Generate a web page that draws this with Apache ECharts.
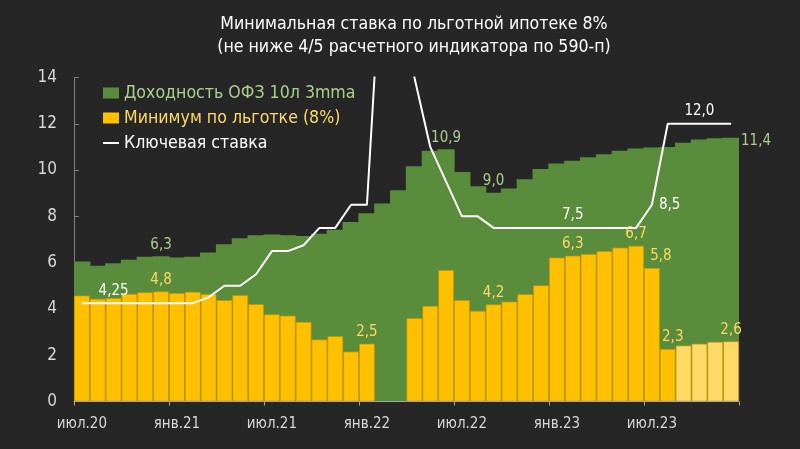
<!DOCTYPE html>
<html>
<head>
<meta charset="utf-8">
<script src="https://cdn.jsdelivr.net/npm/echarts@6/dist/echarts.min.js"></script>
<style>
html,body{margin:0;padding:0;background:#262626;}
#c{width:800px;height:449px;}
</style>
</head>
<body>
<div id="c"></div>
<script>
// Months Jul 2020 .. Dec 2023
const categories = [
  'июл.20','авг.20','сен.20','окт.20','ноя.20','дек.20',
  'янв.21','фев.21','мар.21','апр.21','май.21','июн.21',
  'июл.21','авг.21','сен.21','окт.21','ноя.21','дек.21',
  'янв.22','фев.22','мар.22','апр.22','май.22','июн.22',
  'июл.22','авг.22','сен.22','окт.22','ноя.22','дек.22',
  'янв.23','фев.23','мар.23','апр.23','май.23','июн.23',
  'июл.23','авг.23','сен.23','окт.23','ноя.23','дек.23'
];
// Доходность ОФЗ 10л 3mma
const ofzYield = [
  6.05, 5.87, 5.97, 6.13, 6.25, 6.28,
  6.22, 6.25, 6.44, 6.80, 7.05, 7.18,
  7.22, 7.18, 7.15, 7.25, 7.42, 7.76,
  8.13, 8.56, 9.13, 10.17, 10.83, 10.90,
  9.92, 9.30, 9.02, 9.20, 9.60, 10.05,
  10.28, 10.40, 10.55, 10.68, 10.83, 10.93,
  10.97, 11.00, 11.18, 11.32, 11.37, 11.40
];
// Минимум по льготке (8%)
const minRate = [
  4.58, 4.44, 4.47, 4.65, 4.72, 4.76,
  4.68, 4.74, 4.64, 4.38, 4.60, 4.21,
  3.77, 3.71, 3.44, 2.68, 2.83, 2.16,
  2.50, null, null, 3.60, 4.13, 5.68,
  4.38, 3.92, 4.20, 4.32, 4.64, 5.02,
  6.22, 6.30, 6.37, 6.50, 6.65, 6.73,
  5.77, 2.27, 2.42, 2.50, 2.58, 2.60
];
// Ключевая ставка
const keyRate = [
  4.25, 4.25, 4.25, 4.25, 4.25, 4.25,
  4.25, 4.25, 4.5, 5.0, 5.0, 5.5,
  6.5, 6.5, 6.75, 7.5, 7.5, 8.5,
  8.5, 20, 20, 14, 11, 9.5,
  8, 8, 7.5, 7.5, 7.5, 7.5,
  7.5, 7.5, 7.5, 7.5, 7.5, 7.5,
  8.5, 12, 12, 12, 12, 12
];
const forecastStart = 38; // lighter bars (forecast)
const ofzLabelIdx = [5, 23, 26];
const ofzEndLabelIdx = 41;
const minLabelIdx = [5, 18, 26, 31, 35, 41];
const minLabelShifted = {36: 9, 37: 5};
const keyLabelTop = [2, 31, 39];
const keyLabelRight = [36];
const yTicks = {min: 0, max: 14, interval: 2};

const FONT = "'DejaVu Sans Condensed', 'DejaVu Sans', sans-serif";
const GREEN = '#598C3B', GREEN_TXT = '#A9D18E';
const YELLOW = '#FFC000', YELLOW_LIGHT = '#FFD966', YELLOW_TXT = '#FFD966';

const fmt1 = v => v.toFixed(1).replace('.', ',');
function fmtKey(v){
  const s = Math.abs(v*10 - Math.round(v*10)) < 1e-9 ? v.toFixed(1) : v.toFixed(2);
  return s.replace('.', ',');
}
const barLbl = {show: true, fontFamily: FONT, fontSize: 15, formatter: p => fmt1(p.value)};
const keyLbl = {show: true, fontFamily: FONT, fontSize: 15, formatter: p => fmtKey(p.value)};

const ofzData = ofzYield.map((v, i) => {
  const d = {value: v};
  if (ofzLabelIdx.includes(i)) d.label = Object.assign({}, barLbl, {position: 'top', distance: 4, color: GREEN_TXT});
  if (i === ofzEndLabelIdx) d.label = Object.assign({}, barLbl, {position: ['100%', 0], align: 'left', verticalAlign: 'middle', offset: [2, 3], color: GREEN_TXT});
  return d;
});
const minData = minRate.map((v, i) => {
  const d = {value: v};
  if (i >= forecastStart) d.itemStyle = {color: YELLOW_LIGHT};
  if (minLabelIdx.includes(i)) d.label = Object.assign({}, barLbl, {position: 'top', distance: 4, color: YELLOW_TXT});
  if (minLabelShifted[i] !== undefined) d.label = Object.assign({}, barLbl, {position: 'top', distance: 4, offset: [minLabelShifted[i], 0], color: YELLOW_TXT});
  return d;
});
const keyData = keyRate.map((v, i) => {
  const d = {value: v};
  if (keyLabelTop.includes(i)) d.label = Object.assign({}, keyLbl, {position: 'top', distance: 5, color: '#FFFFFF'});
  if (keyLabelRight.includes(i)) d.label = Object.assign({}, keyLbl, {position: 'right', distance: 7, color: '#FFFFFF'});
  return d;
});

const chart = echarts.init(document.getElementById('c'), null, {renderer: 'canvas'});
chart.setOption({
  backgroundColor: '#262626',
  animation: false,
  title: {
    text: 'Минимальная ставка по льготной ипотеке 8%\n(не ниже 4/5 расчетного индикатора по 590-п)',
    left: 409, top: 8, textAlign: 'center',
    textStyle: {color: '#FFFFFF', fontFamily: FONT, fontSize: 17.6, fontWeight: 'normal', lineHeight: 23}
  },
  legend: {
    orient: 'vertical', left: 103, top: 84, padding: 0,
    itemWidth: 16, itemHeight: 11, itemGap: 7,
    textStyle: {fontFamily: FONT, fontSize: 17.6, lineHeight: 18},
    data: [
      {name: 'Доходность ОФЗ 10л 3mma', icon: 'rect', itemStyle: {color: GREEN, borderWidth: 0}, textStyle: {color: GREEN_TXT}},
      {name: 'Минимум по льготке (8%)', icon: 'rect', itemStyle: {color: YELLOW, borderWidth: 0}, textStyle: {color: YELLOW_TXT}},
      {name: 'Ключевая ставка', icon: 'path://M0,0 L16,0 L16,2 L0,2 Z', itemStyle: {color: '#FFFFFF', borderWidth: 0}, textStyle: {color: '#FFFFFF'}}
    ]
  },
  grid: {left: 74, right: 61, top: 77.5, bottom: 47.5, containLabel: false},
  xAxis: [
    {
      type: 'category', data: categories, boundaryGap: true,
      axisLine: {lineStyle: {color: '#A6A6A6', width: 1}},
      axisTick: {show: true, interval: 5, length: 4, lineStyle: {color: '#A6A6A6'}},
      axisLabel: {interval: 5, color: '#D9D9D9', fontFamily: FONT, fontSize: 15, margin: 15},
      z: 5
    },
    {
      type: 'category', data: categories, boundaryGap: true, position: 'bottom', show: false
    }
  ],
  yAxis: {
    type: 'value', min: yTicks.min, max: yTicks.max, interval: yTicks.interval,
    axisLine: {show: true, lineStyle: {color: '#7F7F7F'}},
    axisTick: {show: true, inside: true, length: 5, lineStyle: {color: '#7F7F7F'}},
    splitLine: {show: false},
    axisLabel: {color: '#D9D9D9', fontFamily: FONT, fontSize: 17, margin: 17}
  },
  series: [
    {
      name: 'Доходность ОФЗ 10л 3mma', type: 'bar', data: ofzData, xAxisIndex: 1,
      barWidth: '108%', itemStyle: {color: GREEN, borderWidth: 0}, z: 1
    },
    {
      name: 'Минимум по льготке (8%)', type: 'bar', data: minData, xAxisIndex: 0,
      barWidth: '100%',
      itemStyle: {color: YELLOW, borderColor: 'rgba(200,145,0,0.85)', borderWidth: 0.8}, z: 2
    },
    {
      name: 'Ключевая ставка', type: 'line', data: keyData, xAxisIndex: 0,
      symbol: 'circle', symbolSize: 0, showSymbol: true, clip: true,
      lineStyle: {color: '#FFFFFF', width: 2}, itemStyle: {color: '#FFFFFF'}, z: 3
    }
  ]
});
</script>
</body>
</html>
